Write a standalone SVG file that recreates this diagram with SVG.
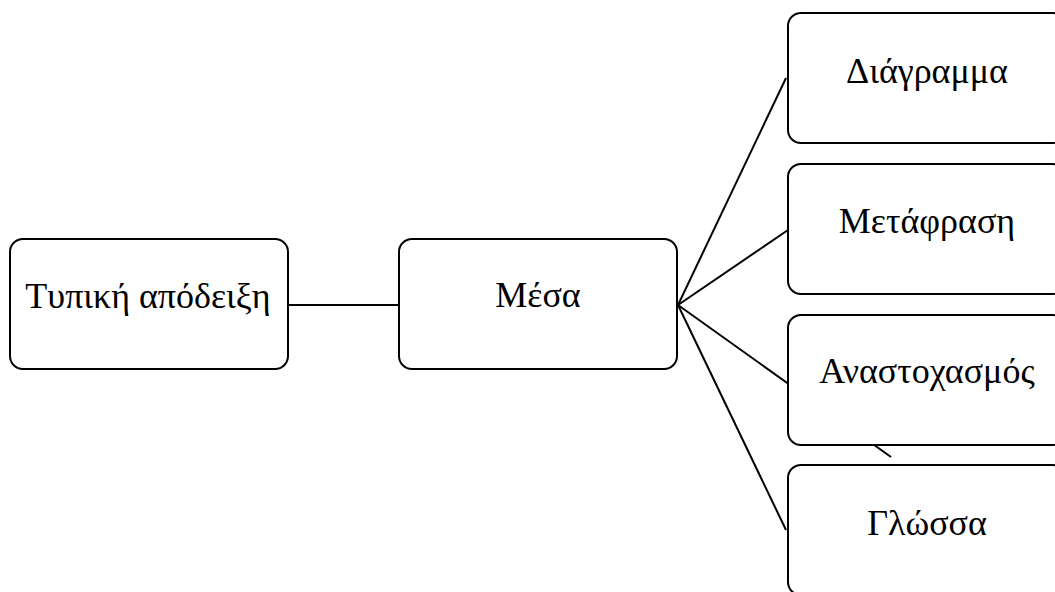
<svg xmlns="http://www.w3.org/2000/svg" width="1055" height="592" viewBox="0 0 1055 592">
  <style>
    .box { fill: #ffffff; stroke: #000000; stroke-width: 2; }
    .lbl { font-family: "Liberation Serif", "Times New Roman", serif; font-size: 36px; fill: #000000; text-anchor: middle; }
    .conn { stroke: #000000; stroke-width: 2; fill: none; }
  </style>
  <rect width="1055" height="592" fill="#ffffff"/>

  <!-- connectors (drawn beneath the boxes) -->
  <g id="connectors">
    <line class="conn" x1="288" y1="305" x2="399" y2="305"/>
    <line class="conn" x1="678" y1="305" x2="786" y2="78"/>
    <line class="conn" x1="678" y1="305" x2="788" y2="230"/>
    <line class="conn" x1="678" y1="305" x2="891" y2="457"/>
    <line class="conn" x1="678" y1="305" x2="786" y2="530"/>
  </g>

  <g id="node-proof">
    <rect class="box" x="10" y="239" width="278" height="130" rx="13"/>
    <text class="lbl" x="148" y="308">Τυπική απόδειξη</text>
  </g>
  <g id="node-means">
    <rect class="box" x="399" y="239" width="278" height="130" rx="13"/>
    <text class="lbl" x="538" y="307">Μέσα</text>
  </g>
  <g id="node-diagram">
    <rect class="box" x="788" y="13" width="278" height="130" rx="13"/>
    <text class="lbl" x="927" y="83">Διάγραμμα</text>
  </g>
  <g id="node-translation">
    <rect class="box" x="788" y="164" width="278" height="130" rx="13"/>
    <text class="lbl" x="927" y="233">Μετάφραση</text>
  </g>
  <g id="node-reflection">
    <rect class="box" x="788" y="315" width="278" height="130" rx="13"/>
    <text class="lbl" x="927" y="383">Αναστοχασμός</text>
  </g>
  <g id="node-language">
    <rect class="box" x="788" y="465" width="278" height="130" rx="13"/>
    <text class="lbl" x="927" y="535">Γλώσσα</text>
  </g>
</svg>
